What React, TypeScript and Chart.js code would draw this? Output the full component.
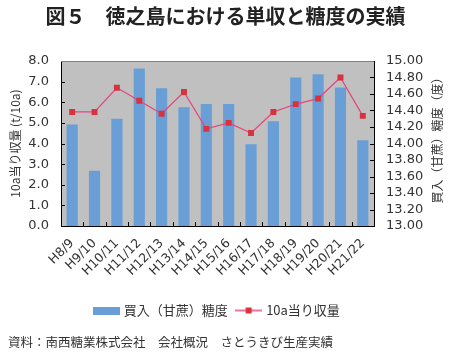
import React, { useEffect, useRef } from "react";
import { Chart, registerables } from "chart.js";

Chart.register(...registerables);

const categories = ["H8/9", "H9/10", "H10/11", "H11/12", "H12/13", "H13/14", "H14/15", "H15/16", "H16/17", "H17/18", "H18/19", "H19/20", "H20/21", "H21/22"];
const sugarContent = [14.23, 13.67, 14.30, 14.91, 14.67, 14.44, 14.48, 14.48, 13.99, 14.27, 14.80, 14.84, 14.68, 14.04];
const yieldPer10a = [5.53, 5.53, 6.70, 6.07, 5.44, 6.50, 4.71, 5.00, 4.51, 5.53, 5.91, 6.18, 7.20, 5.34];

const titleText = "図５　徳之島における単収と糖度の実績";
const sourceText = "資料：南西糖業株式会社　会社概況　さとうきび生産実績";
const barLabel = "買入（甘蔗）糖度";
const lineLabel = "10a当り収量";
const leftAxisTitle = "10a当り収量 (t/10a)";
const rightAxisTitle = "買入（甘蔗）糖度（度）";

const BAR_COLOR = "#699fd6";
const LINE_COLOR = "#e2487f";
const MARKER_COLOR = "#d8323c";
const PLOT_BG = "#c0c0c0";
const TEXT = "#333333";
const JP = "'Noto Sans CJK JP', 'Noto Sans', sans-serif";
const NUM = "'DejaVu Sans', sans-serif";

function makeBarSwatch() {
  const c = document.createElement("canvas");
  c.width = 27;
  c.height = 8;
  const g = c.getContext("2d")!;
  g.fillStyle = BAR_COLOR;
  g.fillRect(0, 0, 27, 8);
  return c;
}

function makeLineSwatch() {
  const c = document.createElement("canvas");
  c.width = 27;
  c.height = 8;
  const g = c.getContext("2d")!;
  g.strokeStyle = LINE_COLOR;
  g.lineWidth = 1.5;
  g.beginPath();
  g.moveTo(0, 4);
  g.lineTo(27, 4);
  g.stroke();
  g.fillStyle = MARKER_COLOR;
  g.fillRect(10.5, 1, 6, 6);
  return c;
}

const decorPlugin = {
  id: "decor",
  beforeDraw(chart: any) {
    const { ctx, chartArea } = chart;
    ctx.save();
    ctx.fillStyle = PLOT_BG;
    ctx.fillRect(chartArea.left, chartArea.top, chartArea.right - chartArea.left, chartArea.bottom - chartArea.top);
    ctx.restore();
  },
  afterDraw(chart: any) {
    const { ctx, chartArea, scales } = chart;
    ctx.save();
    ctx.strokeStyle = "#000";
    ctx.lineWidth = 1;
    scales.y.ticks.forEach((t: any) => {
      const py = Math.round(scales.y.getPixelForValue(t.value)) + 0.5;
      ctx.beginPath();
      ctx.moveTo(chartArea.left, py);
      ctx.lineTo(chartArea.left + 4, py);
      ctx.stroke();
    });
    scales.y1.ticks.forEach((t: any) => {
      const py = Math.round(scales.y1.getPixelForValue(t.value)) + 0.5;
      ctx.beginPath();
      ctx.moveTo(chartArea.right - 4, py);
      ctx.lineTo(chartArea.right, py);
      ctx.stroke();
    });
    for (let i = 1; i < categories.length; i++) {
      const px = Math.round((scales.x.getPixelForValue(i - 1) + scales.x.getPixelForValue(i)) / 2) + 0.5;
      ctx.beginPath();
      ctx.moveTo(px, chartArea.bottom);
      ctx.lineTo(px, chartArea.bottom - 4);
      ctx.stroke();
    }
    ctx.strokeStyle = "#808080";
    ctx.beginPath();
    ctx.moveTo(chartArea.left, chartArea.top + 0.5);
    ctx.lineTo(chartArea.right, chartArea.top + 0.5);
    ctx.stroke();
    ctx.fillStyle = TEXT;
    ctx.font = `12px ${JP}`;
    ctx.textAlign = "center";
    ctx.textBaseline = "middle";
    ctx.translate(437, (chartArea.top + chartArea.bottom) / 2 - 6);
    ctx.rotate(-Math.PI / 2);
    ctx.fillText(rightAxisTitle, 0, 0);
    ctx.restore();
  },
};

export default function App() {
  const ref = useRef<HTMLCanvasElement | null>(null);

  useEffect(() => {
    if (!ref.current) return;
    const barSwatch = makeBarSwatch();
    const lineSwatch = makeLineSwatch();
    const chart = new Chart(ref.current, {
      type: "bar",
      data: {
        labels: categories,
        datasets: [
          {
            type: "line",
            label: lineLabel,
            data: yieldPer10a,
            yAxisID: "y",
            borderColor: LINE_COLOR,
            borderWidth: 1.3,
            backgroundColor: MARKER_COLOR,
            pointStyle: "rect",
            pointRadius: 4.2,
            pointBorderWidth: 0,
            pointBackgroundColor: MARKER_COLOR,
            tension: 0,
            order: 0,
          } as any,
          {
            type: "bar",
            label: barLabel,
            data: sugarContent,
            yAxisID: "y1",
            backgroundColor: BAR_COLOR,
            barPercentage: 0.5,
            categoryPercentage: 1,
            order: 1,
          } as any,
        ],
      },
      options: {
        animation: false,
        responsive: false,
        layout: { padding: { left: 8, right: 8, top: 0, bottom: 0 } },
        plugins: {
          title: {
            display: true,
            text: titleText,
            color: "#222",
            font: { family: JP, size: 20, weight: "bold" },
            padding: { top: 4, bottom: 33 },
          },
          subtitle: {
            display: true,
            text: sourceText,
            position: "bottom",
            align: "start",
            color: TEXT,
            font: { family: JP, size: 12.5, weight: "normal" },
            padding: { top: 8, bottom: 7 },
          },
          legend: {
            position: "bottom",
            fullSize: false,
            labels: {
              color: TEXT,
              font: { family: JP, size: 13 },
              usePointStyle: true,
              pointStyleWidth: 22,
              padding: 10,
              generateLabels(chart: any) {
                const items = Chart.defaults.plugins.legend.labels.generateLabels(chart);
                items.forEach((it: any) => {
                  it.pointStyle = it.datasetIndex === 1 ? barSwatch : lineSwatch;
                  it.lineWidth = 0;
                });
                return items.sort((a: any, b: any) => b.datasetIndex - a.datasetIndex);
              },
            },
          },
          tooltip: { enabled: false },
        },
        scales: {
          x: {
            offset: true,
            grid: { display: true, drawOnChartArea: false, drawTicks: false, offset: true },
            border: { display: true, color: "#000", width: 1 },
            ticks: {
              color: TEXT,
              font: { family: NUM, size: 12.5 },
              autoSkip: false,
              maxRotation: 45,
              minRotation: 45,
              padding: 10,
            },
            afterFit: (s: any) => {
              s.height = 68;
            },
          },
          y: {
            position: "left",
            min: 0,
            max: 8,
            grid: { display: true, drawOnChartArea: false, drawTicks: false },
            border: { display: true, color: "#000", width: 1 },
            ticks: {
              stepSize: 1,
              autoSkip: false,
              color: TEXT,
              font: { family: NUM, size: 13 },
              padding: 12,
              callback: (v: any) => Number(v).toFixed(1),
            },
            title: {
              display: true,
              text: leftAxisTitle,
              color: TEXT,
              font: { family: JP, size: 12 },
              padding: { top: 0, bottom: 6 },
            },
            afterFit: (s: any) => {
              s.width = 53;
            },
          },
          y1: {
            position: "right",
            min: 13,
            max: 15,
            grid: { display: true, drawOnChartArea: false, drawTicks: false },
            border: { display: true, color: "#000", width: 1 },
            ticks: {
              stepSize: 0.2,
              autoSkip: false,
              color: TEXT,
              font: { family: NUM, size: 13 },
              padding: 12,
              callback: (v: any) => Number(v).toFixed(2),
            },
            afterFit: (s: any) => {
              s.width = 69;
            },
          },
        },
      },
      plugins: [decorPlugin],
    });
    return () => chart.destroy();
  }, []);

  return (
    <div style={{ position: "fixed", left: 0, top: 0, width: 451, height: 357, background: "#fff" }}>
      <canvas ref={ref} width={451} height={357} style={{ display: "block", width: 451, height: 357 }} />
    </div>
  );
}
